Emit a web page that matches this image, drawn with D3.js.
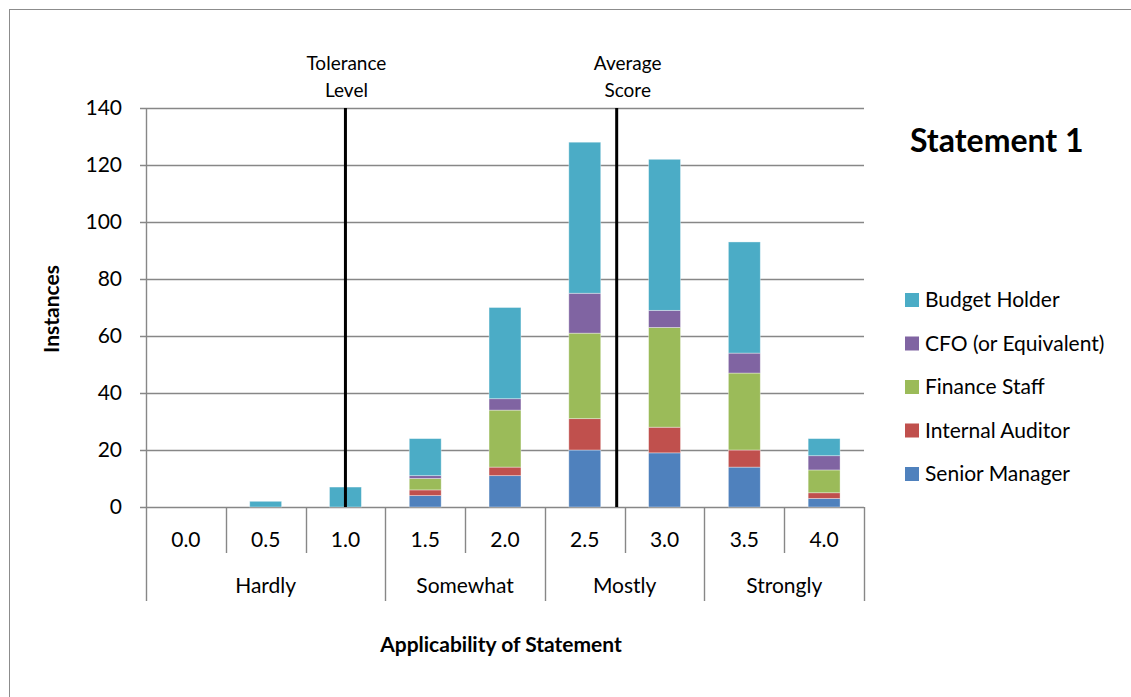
<!DOCTYPE html>
<html lang="en">
<head>
    <meta charset="UTF-8">
    <title>Statement 1</title>
    <script src="https://d3js.org/d3.v7.min.js"></script>
    <style>
        body { margin: 0; background: #fff; }
        svg text { font-family: Lato, "Open Sans", sans-serif; fill: #000; }
    </style>
</head>
<body>
    <svg id="chart"></svg>
    <script>
        // Data
        const categories = ["0.0", "0.5", "1.0", "1.5", "2.0", "2.5", "3.0", "3.5", "4.0"];
        const groupNames = ["Hardly", "Somewhat", "Mostly", "Strongly"];
        const groupSizes = [3, 2, 2, 2];
        const seriesNames = ["Senior Manager", "Internal Auditor", "Finance Staff", "CFO (or Equivalent)", "Budget Holder"];
        const seniorManager = [0, 0, 0, 4, 11, 20, 19, 14, 3];
        const internalAuditor = [0, 0, 0, 2, 3, 11, 9, 6, 2];
        const financeStaff = [0, 0, 0, 4, 20, 30, 35, 27, 8];
        const cfo = [0, 0, 0, 1, 4, 14, 6, 7, 5];
        const budgetHolder = [0, 2, 7, 13, 32, 53, 53, 39, 6];
        const yTicks = [0, 20, 40, 60, 80, 100, 120, 140];
        const toleranceLevel = 1.0;
        const averageScore = 2.7;

        const seriesValues = [seniorManager, internalAuditor, financeStaff, cfo, budgetHolder];
        const colors = ["#4F81BD", "#C0504D", "#9BBB59", "#8064A2", "#4BACC6"];

        // Constants
        const W = 1131, H = 697;
        const plot = { left: 146, right: 864, top: 108, bottom: 507 };

        const svg = d3.select("#chart")
            .attr("width", W)
            .attr("height", H);

        // chart frame
        svg.append("rect")
            .attr("x", 9.5).attr("y", 9.5)
            .attr("width", W).attr("height", H)
            .attr("fill", "none")
            .attr("stroke", "#8c8c8c");

        // Scales
        const x = d3.scaleBand()
            .domain(categories)
            .range([plot.left, plot.right])
            .padding(0);

        const xNum = d3.scaleLinear()
            .domain([0, 4])
            .range([x(categories[0]) + x.bandwidth() / 2, x(categories[8]) + x.bandwidth() / 2]);

        const y = d3.scaleLinear()
            .domain([0, 140])
            .range([plot.bottom, plot.top]);

        // Gridlines
        svg.append("g")
            .selectAll("line")
            .data(yTicks)
            .join("line")
            .attr("x1", plot.left - 6)
            .attr("x2", plot.right)
            .attr("y1", d => Math.round(y(d)) + 0.5)
            .attr("y2", d => Math.round(y(d)) + 0.5)
            .attr("stroke", "#878787")
            .attr("stroke-width", 1.4);

        // Y axis
        const yAxis = svg.append("g")
            .attr("transform", "translate(" + plot.left + ",0)")
            .call(d3.axisLeft(y).tickValues(yTicks).tickSizeInner(6).tickSizeOuter(0).tickPadding(18));
        yAxis.select(".domain").remove();
        yAxis.selectAll(".tick line").attr("stroke", "#878787");
        yAxis.selectAll("text").style("font-size", "21px").attr("fill", "#000");

        // Stacked bars
        const stackData = categories.map((c, i) => {
            const row = { cat: c };
            seriesNames.forEach((s, k) => row[s] = seriesValues[k][i]);
            return row;
        });
        const stacked = d3.stack().keys(seriesNames)(stackData);
        const barW = x.bandwidth() * 0.4;

        svg.append("g")
            .selectAll("g")
            .data(stacked)
            .join("g")
            .attr("fill", (d, i) => colors[i])
            .selectAll("rect")
            .data(d => d.filter(s => s[1] - s[0] > 0))
            .join("rect")
            .attr("x", d => x(d.data.cat) + (x.bandwidth() - barW) / 2)
            .attr("y", d => y(d[1]))
            .attr("width", barW)
            .attr("height", d => y(d[0]) - y(d[1]))
            .attr("stroke", "rgba(255,255,255,0.45)")
            .attr("stroke-width", 0.8);

        // Category axis frame
        const axisG = svg.append("g").attr("stroke", "#878787").attr("stroke-width", 1.4);
        axisG.append("line")
            .attr("x1", plot.left + 0.5).attr("x2", plot.left + 0.5)
            .attr("y1", plot.top).attr("y2", 601);

        const groupEnds = d3.cumsum(groupSizes);
        categories.forEach((c, i) => {
            if (i === 0) return;
            const isGroup = groupEnds.includes(i);
            const xx = Math.round(x(c)) + 0.5;
            axisG.append("line")
                .attr("x1", xx).attr("x2", xx)
                .attr("y1", plot.bottom).attr("y2", isGroup ? 601 : 553);
        });
        axisG.append("line")
            .attr("x1", plot.right + 0.5).attr("x2", plot.right + 0.5)
            .attr("y1", plot.bottom).attr("y2", 601);

        svg.append("g")
            .selectAll("text")
            .data(categories)
            .join("text")
            .attr("x", d => x(d) + x.bandwidth() / 2)
            .attr("y", 540)
            .attr("dy", "0.35em")
            .attr("text-anchor", "middle")
            .style("font-size", "21px")
            .text(d => d);

        let start = 0;
        groupNames.forEach((g, i) => {
            const x0 = x(categories[start]);
            const x1 = x(categories[start + groupSizes[i] - 1]) + x.bandwidth();
            svg.append("text")
                .attr("x", (x0 + x1) / 2)
                .attr("y", 586)
                .attr("dy", "0.35em")
                .attr("text-anchor", "middle")
                .style("font-size", "21px")
                .text(g);
            start += groupSizes[i];
        });

        // Reference lines
        const refs = [
            { value: toleranceLevel, lines: ["Tolerance", "Level"], dx: 1 },
            { value: averageScore, lines: ["Average", "Score"], dx: 11 }
        ];
        refs.forEach(r => {
            const xx = xNum(r.value);
            svg.append("line")
                .attr("x1", xx).attr("x2", xx)
                .attr("y1", plot.top).attr("y2", plot.bottom)
                .attr("stroke", "#000")
                .attr("stroke-width", 3);
            r.lines.forEach((t, k) => {
                svg.append("text")
                    .attr("x", xx + r.dx)
                    .attr("y", 63 + k * 27)
                    .attr("dy", "0.35em")
                    .attr("text-anchor", "middle")
                    .style("font-size", "19px")
                    .text(t);
            });
        });

        // Axis titles
        svg.append("text")
            .attr("transform", "translate(52,309) rotate(-90)")
            .attr("text-anchor", "middle")
            .attr("dy", "0.35em")
            .style("font-size", "21px")
            .style("font-weight", "bold")
            .text("Instances");

        svg.append("text")
            .attr("x", 501)
            .attr("y", 645)
            .attr("dy", "0.35em")
            .attr("text-anchor", "middle")
            .style("font-size", "21px")
            .style("font-weight", "bold")
            .text("Applicability of Statement");

        // Title
        svg.append("text")
            .attr("x", 910)
            .attr("y", 141)
            .attr("dy", "0.35em")
            .style("font-size", "32px")
            .style("font-weight", "bold")
            .text("Statement 1");

        // Legend (reverse order, top is Budget Holder)
        const legendOrder = seriesNames.map((s, i) => ({ name: s, color: colors[i] })).reverse();
        const legend = svg.append("g")
            .selectAll("g")
            .data(legendOrder)
            .join("g")
            .attr("transform", (d, i) => "translate(905," + (300 + i * 43.5) + ")");
        legend.append("rect")
            .attr("x", 0).attr("y", -7)
            .attr("width", 14).attr("height", 14)
            .attr("fill", d => d.color);
        legend.append("text")
            .attr("x", 20)
            .attr("dy", "0.35em")
            .style("font-size", "21px")
            .text(d => d.name);
    </script>
</body>
</html>
